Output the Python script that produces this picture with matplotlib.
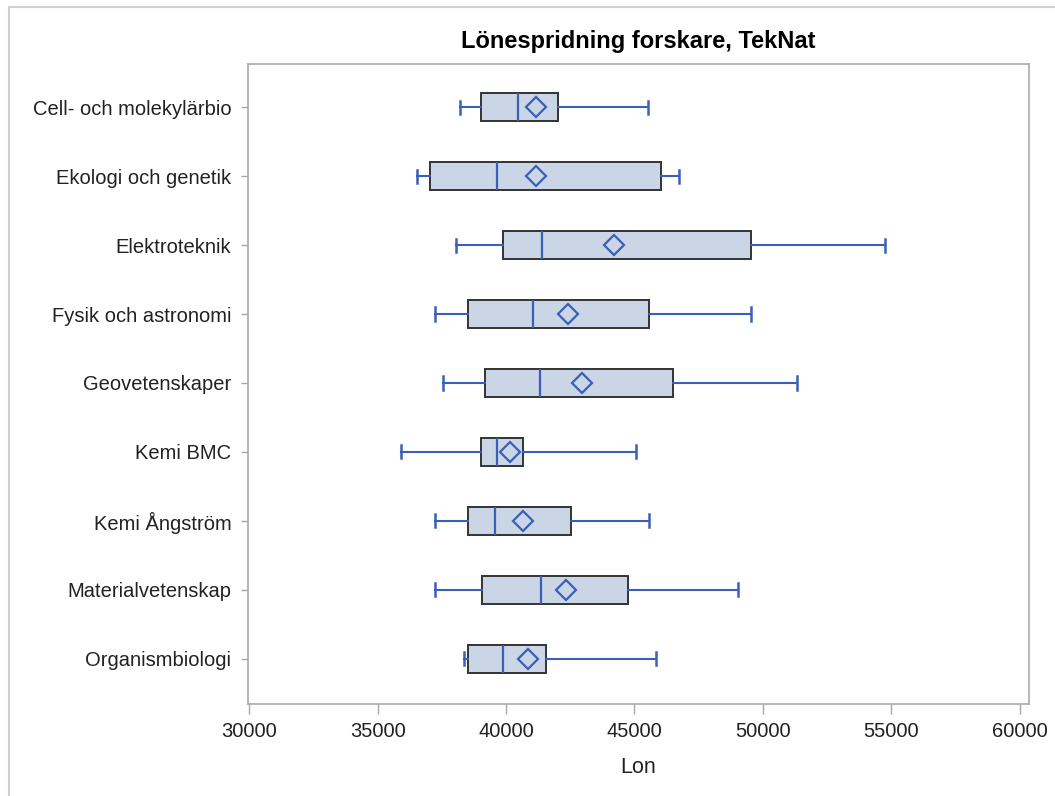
import matplotlib
matplotlib.use("Agg")
import matplotlib.pyplot as plt
from matplotlib.lines import Line2D

plt.rcParams['font.family'] = ['Liberation Sans', 'DejaVu Sans']

# data (SEK)
groups = ['Cell- och molekylärbio', 'Ekologi och genetik', 'Elektroteknik',
          'Fysik och astronomi', 'Geovetenskaper', 'Kemi BMC', 'Kemi Ångström',
          'Materialvetenskap', 'Organismbiologi']
whislo = [38220, 36530, 38040, 37250, 37530, 35930, 37250, 37250, 38350]
q1 = [39040, 37050, 39900, 38530, 39180, 39040, 38530, 39050, 38530]
med = [40470, 39630, 41390, 41050, 41310, 39630, 39560, 41350, 39900]
mean = [41170, 41180, 44220, 42400, 42970, 40140, 40670, 42340, 40870]
q3 = [42030, 46040, 49540, 45570, 46510, 40660, 42540, 44740, 41560]
whishi = [45530, 46720, 54740, 49530, 51340, 45050, 45560, 49050, 45840]
xticks = [30000, 35000, 40000, 45000, 50000, 55000, 60000]

blue = '#3A5FB8'
stats = []
for i, g in enumerate(groups):
    stats.append(dict(label=g, whislo=whislo[i], q1=q1[i], med=med[i],
                      mean=mean[i], q3=q3[i], whishi=whishi[i], fliers=[]))

fig = plt.figure(figsize=(10.55, 7.96), dpi=100)
ax = fig.add_axes([0.235, 0.116, 0.740, 0.804])

pos = list(range(len(groups)))
ax.bxp(stats, positions=pos, orientation='horizontal', widths=0.41,
       capwidths=0.19, patch_artist=True, showmeans=True,
       boxprops=dict(facecolor='#CAD5E6', edgecolor='#333333', linewidth=1.4),
       medianprops=dict(color=blue, linewidth=1.6),
       whiskerprops=dict(color=blue, linewidth=1.5),
       capprops=dict(color=blue, linewidth=1.8),
       meanprops=dict(marker='D', markersize=10, markerfacecolor='none',
                      markeredgecolor=blue, markeredgewidth=1.6))

ax.set_ylim(len(groups) - 0.35, -0.63)
ax.set_xlim(29950, 60350)
ax.set_xticks(xticks)
ax.set_xticklabels([str(t) for t in xticks])
ax.set_yticks(pos)
ax.set_yticklabels(groups)
ax.tick_params(axis='both', colors='#A8A8A8', labelcolor='#222222',
               labelsize=14.5, length=7, width=1)
ax.tick_params(axis='x', pad=6)
ax.tick_params(axis='y', length=5, pad=7)
for s in ax.spines.values():
    s.set_color('#AAAAAA')
    s.set_linewidth(1.2)

ax.set_xlabel('Lon', fontsize=15.5, color='#222222', labelpad=12)
ax.set_title('Lönespridning forskare, TekNat', fontsize=17,
             fontweight='bold', pad=11)

# light frame around the picture (top and left edges only visible)
fig.add_artist(Line2D([9 / 1055, 1.0], [1 - 7 / 796, 1 - 7 / 796],
                      transform=fig.transFigure, color='#D0D0D0', lw=1.5))
fig.add_artist(Line2D([9 / 1055, 9 / 1055], [0.0, 1 - 7 / 796],
                      transform=fig.transFigure, color='#D0D0D0', lw=1.5))

fig.savefig('out.png', dpi=100)
